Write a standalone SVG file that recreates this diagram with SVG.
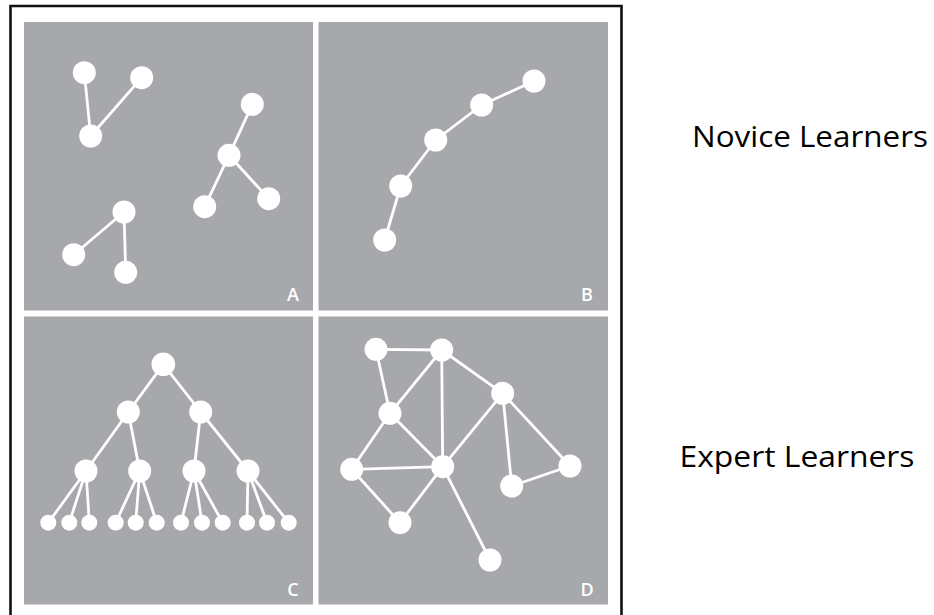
<svg xmlns="http://www.w3.org/2000/svg" width="934" height="615" viewBox="0 0 934 615">
<style>
.panel{fill:#a7a8ab}
.n{fill:#ffffff}
.e line{stroke:#ffffff;stroke-width:2.8;stroke-linecap:round}
.lbl{fill:#ffffff;font-family:"Open Sans","Liberation Sans",sans-serif;font-size:18px;font-weight:600;text-anchor:middle}
.cap{fill:#000000;font-family:"Open Sans","Noto Sans",sans-serif;font-size:30px}
</style>
<rect width="934" height="615" fill="#ffffff"/>
<path d="M10.5 615 V6 H621.5 V615" fill="none" stroke="#111111" stroke-width="2.6"/>
<g id="panels">
<rect class="panel" x="24" y="22" width="289" height="288.5"/>
<rect class="panel" x="318.5" y="22" width="289.5" height="288.5"/>
<rect class="panel" x="24" y="316.5" width="289" height="288"/>
<rect class="panel" x="318.5" y="316.5" width="289.5" height="288"/>
</g>
<g id="connectors" class="e">
<!-- A -->
<line x1="84.3" y1="72.7" x2="90.7" y2="136"/>
<line x1="141.7" y1="77.7" x2="90.7" y2="136"/>
<line x1="252.3" y1="104.3" x2="229" y2="155.3"/>
<line x1="229" y1="155.3" x2="204.7" y2="206.7"/>
<line x1="229" y1="155.3" x2="268.7" y2="198.7"/>
<line x1="124" y1="212" x2="73.7" y2="254.7"/>
<line x1="124" y1="212" x2="125.7" y2="272.3"/>
<!-- B -->
<line x1="534" y1="81" x2="481.7" y2="105"/>
<line x1="481.7" y1="105" x2="435.7" y2="140"/>
<line x1="435.7" y1="140" x2="400.7" y2="186"/>
<line x1="400.7" y1="186" x2="384.7" y2="240"/>
<!-- C -->
<line x1="163.3" y1="364.3" x2="128.3" y2="412"/>
<line x1="163.3" y1="364.3" x2="200.7" y2="412"/>
<line x1="128.3" y1="412" x2="86" y2="471"/>
<line x1="128.3" y1="412" x2="139.7" y2="471"/>
<line x1="200.7" y1="412" x2="194" y2="471"/>
<line x1="200.7" y1="412" x2="248" y2="471"/>
<line x1="86" y1="471" x2="48.3" y2="522.7"/>
<line x1="86" y1="471" x2="69.3" y2="522.7"/>
<line x1="86" y1="471" x2="89.3" y2="522.7"/>
<line x1="139.7" y1="471" x2="115.7" y2="522.7"/>
<line x1="139.7" y1="471" x2="135.7" y2="522.7"/>
<line x1="139.7" y1="471" x2="156.7" y2="522.7"/>
<line x1="194" y1="471" x2="181" y2="522.7"/>
<line x1="194" y1="471" x2="202" y2="522.7"/>
<line x1="194" y1="471" x2="222.7" y2="522.7"/>
<line x1="248" y1="471" x2="247" y2="522.7"/>
<line x1="248" y1="471" x2="267" y2="522.7"/>
<line x1="248" y1="471" x2="288.7" y2="522.7"/>
<!-- D -->
<line x1="376" y1="349.3" x2="441.7" y2="350"/>
<line x1="376" y1="349.3" x2="390" y2="413.3"/>
<line x1="441.7" y1="350" x2="390" y2="413.3"/>
<line x1="441.7" y1="350" x2="442.7" y2="466.7"/>
<line x1="441.7" y1="350" x2="502.7" y2="393.3"/>
<line x1="502.7" y1="393.3" x2="442.7" y2="466.7"/>
<line x1="502.7" y1="393.3" x2="511.7" y2="486"/>
<line x1="502.7" y1="393.3" x2="570" y2="466"/>
<line x1="511.7" y1="486" x2="570" y2="466"/>
<line x1="390" y1="413.3" x2="351.7" y2="469.3"/>
<line x1="390" y1="413.3" x2="442.7" y2="466.7"/>
<line x1="351.7" y1="469.3" x2="442.7" y2="466.7"/>
<line x1="351.7" y1="469.3" x2="400" y2="522.7"/>
<line x1="400" y1="522.7" x2="442.7" y2="466.7"/>
<line x1="442.7" y1="466.7" x2="490" y2="560"/>
</g>
<g id="panelA">
<circle id="a1" class="n" cx="84.3" cy="72.7" r="11.5"/>
<circle id="a2" class="n" cx="141.7" cy="77.7" r="11.5"/>
<circle id="a3" class="n" cx="90.7" cy="136" r="11.5"/>
<circle id="a4" class="n" cx="252.3" cy="104.3" r="11.5"/>
<circle id="a5" class="n" cx="229" cy="155.3" r="11.5"/>
<circle id="a6" class="n" cx="204.7" cy="206.7" r="11.5"/>
<circle id="a7" class="n" cx="268.7" cy="198.7" r="11.5"/>
<circle id="a8" class="n" cx="124" cy="212" r="11.5"/>
<circle id="a9" class="n" cx="73.7" cy="254.7" r="11.5"/>
<circle id="a10" class="n" cx="125.7" cy="272.3" r="11.5"/>
<text class="lbl" x="293" y="301">A</text>
</g>
<g id="panelB">
<circle id="b1" class="n" cx="534" cy="81" r="11.5"/>
<circle id="b2" class="n" cx="481.7" cy="105" r="11.5"/>
<circle id="b3" class="n" cx="435.7" cy="140" r="11.5"/>
<circle id="b4" class="n" cx="400.7" cy="186" r="11.5"/>
<circle id="b5" class="n" cx="384.7" cy="240" r="11.5"/>
<text class="lbl" x="587" y="301">B</text>
</g>
<g id="panelC">
<circle id="c0" class="n" cx="163.3" cy="364.3" r="11.8"/>
<circle id="c1" class="n" cx="128.3" cy="412" r="11.5"/>
<circle id="c2" class="n" cx="200.7" cy="412" r="11.5"/>
<circle id="c3" class="n" cx="86" cy="471" r="11.5"/>
<circle id="c4" class="n" cx="139.7" cy="471" r="11.5"/>
<circle id="c5" class="n" cx="194" cy="471" r="11.5"/>
<circle id="c6" class="n" cx="248" cy="471" r="11.5"/>
<circle class="n" cx="48.3" cy="522.7" r="8"/>
<circle class="n" cx="69.3" cy="522.7" r="8"/>
<circle class="n" cx="89.3" cy="522.7" r="8"/>
<circle class="n" cx="115.7" cy="522.7" r="8"/>
<circle class="n" cx="135.7" cy="522.7" r="8"/>
<circle class="n" cx="156.7" cy="522.7" r="8"/>
<circle class="n" cx="181" cy="522.7" r="8"/>
<circle class="n" cx="202" cy="522.7" r="8"/>
<circle class="n" cx="222.7" cy="522.7" r="8"/>
<circle class="n" cx="247" cy="522.7" r="8"/>
<circle class="n" cx="267" cy="522.7" r="8"/>
<circle class="n" cx="288.7" cy="522.7" r="8"/>
<text class="lbl" x="293" y="596">C</text>
</g>
<g id="panelD">
<circle id="d1" class="n" cx="376" cy="349.3" r="11.5"/>
<circle id="d2" class="n" cx="441.7" cy="350" r="11.5"/>
<circle id="d3" class="n" cx="502.7" cy="393.3" r="11.5"/>
<circle id="d4" class="n" cx="390" cy="413.3" r="11.5"/>
<circle id="d5" class="n" cx="351.7" cy="469.3" r="11.5"/>
<circle id="d6" class="n" cx="442.7" cy="466.7" r="11.5"/>
<circle id="d7" class="n" cx="400" cy="522.7" r="11.5"/>
<circle id="d8" class="n" cx="490" cy="560" r="11.5"/>
<circle id="d9" class="n" cx="511.7" cy="486" r="11.5"/>
<circle id="d10" class="n" cx="570" cy="466" r="11.5"/>
<text class="lbl" x="587" y="596">D</text>
</g>
<g id="labels">
<text class="cap" x="692" y="147" textLength="236" lengthAdjust="spacingAndGlyphs">Novice Learners</text>
<text class="cap" x="679.5" y="467" textLength="235" lengthAdjust="spacingAndGlyphs">Expert Learners</text>
</g>
</svg>
